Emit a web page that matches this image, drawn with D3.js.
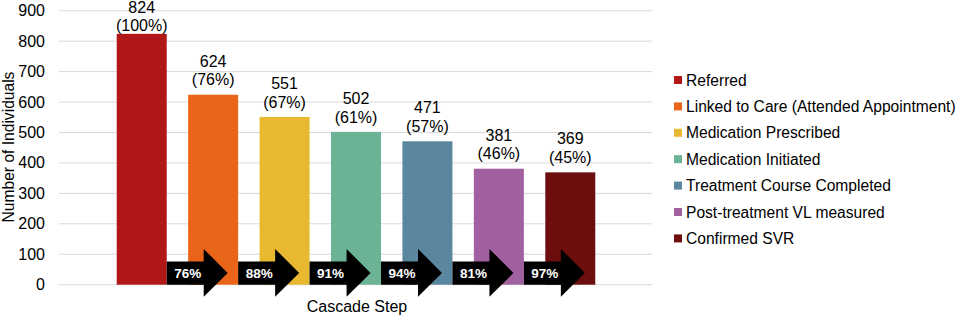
<!DOCTYPE html>
<html><head><meta charset="utf-8">
<script src="https://cdn.jsdelivr.net/npm/d3@7"></script>
<style>body{margin:0;background:#fff;} text{font-family:"Liberation Sans",Arial,sans-serif;}</style>
</head><body><svg id="c" width="957" height="316"></svg>
<script>
const categories = ["Referred","Linked to Care (Attended Appointment)","Medication Prescribed","Medication Initiated","Treatment Course Completed","Post-treatment VL measured","Confirmed SVR"];
const values = [824,624,551,502,471,381,369];
const pctLabels = ["(100%)","(76%)","(67%)","(61%)","(57%)","(46%)","(45%)"];
const stepLabels = ["76%","88%","91%","94%","81%","97%"];
const yTicks = [0,100,200,300,400,500,600,700,800,900];
const colors = ["#B21718","#EA6519","#E7B830","#6CB294","#5A879F","#A1609F","#6C0E0E"];

const svg = d3.select("#c");
const y = d3.scaleLinear().domain([0,900]).range([284.7,10.7]);
const x = d3.scaleBand().domain(categories).range([106,606]).paddingInner(0.3).paddingOuter(0.15);
const gridX0 = 59, gridX1 = 652;

svg.append("g").selectAll("line").data(yTicks).join("line")
  .attr("x1",gridX0).attr("x2",gridX1).attr("y1",d=>y(d)).attr("y2",d=>y(d))
  .attr("stroke","#d9d9d9").attr("stroke-width",1);
svg.append("g").selectAll("text").data(yTicks).join("text")
  .attr("x",45).attr("y",d=>y(d)+5.5).attr("text-anchor","end")
  .attr("font-size",16).attr("fill","#000").text(d=>d);

svg.append("text").attr("transform","translate(14,147) rotate(-90)")
  .attr("text-anchor","middle").attr("font-size",15.6).text("Number of Individuals");

svg.append("g").selectAll("rect").data(categories).join("rect")
  .attr("x",d=>x(d)).attr("width",x.bandwidth())
  .attr("y",(d,i)=>y(values[i])).attr("height",(d,i)=>y(0)-y(values[i]))
  .attr("fill",(d,i)=>colors[i]);

const lab = svg.append("g");
categories.forEach((c,i)=>{
  const cx = x(c)+x.bandwidth()/2;
  const b1 = Math.max(y(values[i])-28, 13.2);
  lab.append("text").attr("x",cx).attr("y",b1).attr("text-anchor","middle").attr("font-size",16).text(values[i]);
  lab.append("text").attr("x",cx).attr("y",Math.min(b1+18.7, y(values[i])-3)).attr("text-anchor","middle").attr("font-size",16).text(pctLabels[i]);
});

// arrows
const ag = svg.append("g");
stepLabels.forEach((s,i)=>{
  const x0 = x(categories[i])+x.bandwidth();
  const yb = y(0), yt = yb-23.3, ymid=(yb+yt)/2;
  const body = 37, head = 61;
  const pts = [[x0,yt],[x0+body,yt],[x0+body,yt-12.5],[x0+head,ymid],[x0+body,yb+12],[x0+body,yb],[x0,yb]];
  ag.append("polygon").attr("points",pts.map(p=>p.join(",")).join(" ")).attr("fill","#000");
  ag.append("text").attr("x",x0+21).attr("y",ymid+5).attr("text-anchor","middle")
    .attr("font-size",13.5).attr("font-weight","bold").attr("fill","#fff").text(s);
});

svg.append("text").attr("x",357).attr("y",312).attr("text-anchor","middle").attr("font-size",16).text("Cascade Step");

const lg = svg.append("g");
categories.forEach((c,i)=>{
  const cy = 80 + i*26.4;
  lg.append("rect").attr("x",674).attr("y",cy-4).attr("width",8).attr("height",8).attr("fill",colors[i]);
  lg.append("text").attr("x",686).attr("y",cy+5.6).attr("font-size",15.6).text(c);
});
</script></body></html>
